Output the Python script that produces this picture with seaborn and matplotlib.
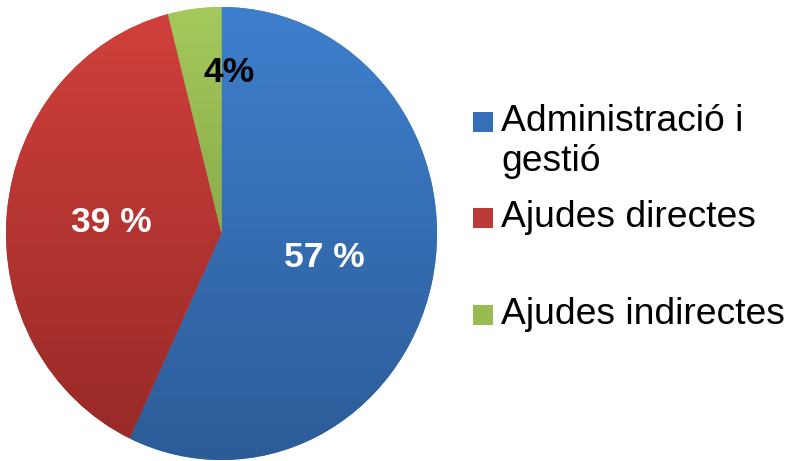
import numpy as np
import matplotlib
matplotlib.use("Agg")
import matplotlib.pyplot as plt
import seaborn as sns
from matplotlib.colors import LinearSegmentedColormap
from matplotlib.patches import Rectangle

categories = ["Administració i\ngestió", "Ajudes directes", "Ajudes indirectes"]
shares = [57, 39, 4]
pct_labels = ["57 %", "39 %", "4%"]
pct_colors = ["white", "white", "black"]

# top / bottom colours of the vertical gradient of every slice
top_colors = ["#3e7fcd", "#d0403c", "#a5ca5b"]
bottom_colors = ["#2c5c98", "#982a27", "#8aab4b"]
mid_colors = ["#376fb6", "#bb3936", "#98bb52"]

sns.set_theme(style="white")
plt.rcParams["font.family"] = ["Liberation Sans", "DejaVu Sans"]

fig = plt.figure(figsize=(7.89, 4.61), dpi=100)
W, H = 789, 461
# pie is slightly elliptical in the original
ax = fig.add_axes([6 / W, 1 / H, 431 / W, 453 / H])

wedges, _ = ax.pie(shares, startangle=90, counterclock=False,
                   colors=mid_colors, radius=1,
                   wedgeprops=dict(linewidth=0))

grad = np.linspace(1, 0, 256).reshape(-1, 1)
for w, c_top, c_bot in zip(wedges, top_colors, bottom_colors):
    verts = w.get_path().vertices
    x0, x1 = verts[:, 0].min(), verts[:, 0].max()
    y0, y1 = verts[:, 1].min(), verts[:, 1].max()
    cmap = LinearSegmentedColormap.from_list("g", [c_bot, c_top])
    im = ax.imshow(grad, extent=[x0, x1, y0, y1], cmap=cmap, vmin=0, vmax=1,
                   aspect="auto", origin="upper", interpolation="bilinear",
                   zorder=2)
    im.set_clip_path(w)

# label positions (angle from slice middle, radius by eye)
total = sum(shares)
cum = np.cumsum([0] + shares[:-1])
radii = [0.49, 0.515, 0.715]
for i, (s, c0) in enumerate(zip(shares, cum)):
    mid = np.deg2rad(90 - (c0 + s / 2) / total * 360)
    x, y = radii[i] * np.cos(mid), radii[i] * np.sin(mid)
    if i == 2:
        x, y = 0.035, 0.713
    ax.text(x, y, pct_labels[i], ha="center", va="center",
            fontsize=25.5, fontweight="bold", color=pct_colors[i], zorder=5)

ax.set_aspect("auto")
ax.set_xlim(-1, 1)
ax.set_ylim(-1, 1)
ax.axis("off")

# legend drawn by hand to keep the Excel spacing
lx_marker, lx_text = 473, 501
ys = [122, 218, 315]
for y, lab, col in zip(ys, categories, mid_colors):
    fig.patches.append(Rectangle((lx_marker / W, 1 - (y + 10) / H), 20 / W, 20 / H,
                                 transform=fig.transFigure, facecolor=col,
                                 edgecolor="none"))
    fig.text(lx_text / W, 1 - (y - 18) / H, lab, ha="left", va="top",
             fontsize=26.8, color="black", linespacing=1.2)

fig.savefig("out.png", dpi=100)
